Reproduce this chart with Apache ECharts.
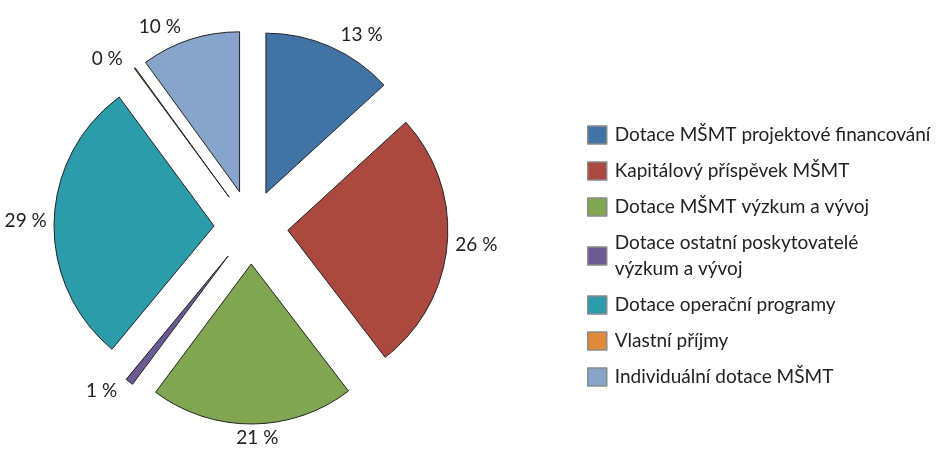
<!DOCTYPE html>
<html>
<head>
<meta charset="utf-8">
<script src="https://cdn.jsdelivr.net/npm/echarts@6/dist/echarts.min.js"></script>
<style>
  html, body { margin: 0; padding: 0; background: #fff; }
  #chart { width: 947px; height: 452px; }
</style>
</head>
<body>
<div id="chart"></div>
<script>
// categories in drawing order (clockwise from 12 o'clock)
const categories = [
  'Dotace MŠMT projektové financování',
  'Kapitálový příspěvek MŠMT',
  'Dotace MŠMT výzkum a vývoj',
  'Dotace ostatní poskytovatelé\nvýzkum a vývoj',
  'Dotace operační programy',
  'Vlastní příjmy',
  'Individuální dotace MŠMT'
];
// shares in % (labels are rounded)
const shares = [13.2, 26.4, 20.6, 0.8, 28.9, 0.1, 10.0];
const colors = ['#4174a5', '#ab4940', '#80a651', '#6b5a94', '#2c9cab', '#e08a38', '#87a4ca'];

const fontFamily = 'Lato, "Open Sans", sans-serif';
const fontSize = 19;

const chart = echarts.init(document.getElementById('chart'));

// labels above/below the pie sit a bit further out than those at the sides
const total = shares.reduce((a, b) => a + b, 0);
let acc = 0;
const labelLen = shares.map(v => {
  const mid = (acc + v / 2) / total * 2 * Math.PI;
  acc += v;
  return 2 + 12 * Math.abs(Math.cos(mid));
});

const option = {
  animation: false,
  legend: {
    orient: 'vertical',
    left: 587,
    top: 122,
    height: 330,
    padding: 0,
    itemWidth: 19,
    itemHeight: 18,
    itemGap: 10,
    icon: 'rect',
    selectedMode: false,
    itemStyle: { borderColor: '#8a8a8a', borderWidth: 1.5 },
    textStyle: { fontFamily: fontFamily, fontSize: fontSize, color: '#222', lineHeight: 26, padding: [0, 0, 0, 3] },
    data: categories
  },
  series: [{
    type: 'pie',
    center: [251, 227],
    radius: 160,
    startAngle: 90,
    clockwise: true,
    selectedMode: 'multiple',
    selectedOffset: 37,
    avoidLabelOverlap: false,
    itemStyle: { borderColor: '#222', borderWidth: 1 },
    emphasis: { disabled: true },
    label: {
      show: true,
      position: 'outside',
      fontFamily: fontFamily,
      fontSize: fontSize,
      color: '#222',
      formatter: p => Math.round(p.value) + ' %'
    },
    labelLine: { show: false, length: 8, length2: 0 },
    labelLayout: p => (p.dataIndex === 2 ? { align: 'center' } : {}),
    data: categories.map((name, i) => ({
      name: name,
      value: shares[i],
      selected: true,
      itemStyle: { color: colors[i] },
      labelLine: { show: false, length: labelLen[i], length2: 0 }
    }))
  }]
};

chart.setOption(option);
</script>
</body>
</html>
